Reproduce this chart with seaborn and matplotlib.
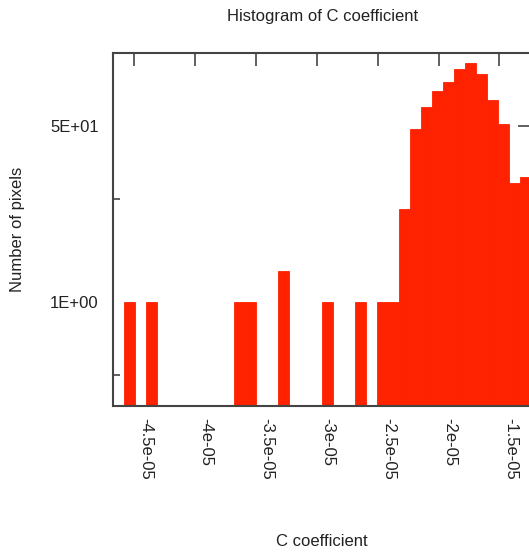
import numpy as np
import pandas as pd
import matplotlib
matplotlib.use("Agg")
import matplotlib.pyplot as plt
import matplotlib.ticker as mticker
import matplotlib.transforms as mtrans
import seaborn as sns

# ---- data ----
bin_start = -4.5847e-05
bin_width = 9.041e-07
counts = [1, 0, 1, 0, 0, 0, 0, 0, 0, 0,
          1, 1, 0, 0, 2, 0, 0, 0, 1, 0,
          0, 1, 0, 1, 1, 8, 47, 76, 109, 135,
          178, 206, 161, 89, 52, 14, 16]
x_ticks = [-4.5e-05, -4e-05, -3.5e-05, -3e-05, -2.5e-05, -2e-05, -1.5e-05]
x_tick_labels = ["-4.5e-05", "-4e-05", "-3.5e-05", "-3e-05", "-2.5e-05", "-2e-05", "-1.5e-05"]
y_major_ticks = [1, 50]
y_major_labels = ["1E+00", "5E+01"]
y_minor_ticks = [0.2, 10]

edges = bin_start + bin_width * np.arange(len(counts) + 1)
centers = (edges[:-1] + edges[1:]) / 2
df = pd.DataFrame({"coef": centers, "n": counts})

sns.set_theme(style="white")
plt.rcParams["font.family"] = ["Liberation Sans", "DejaVu Sans"]

W, H = 529, 557
fig = plt.figure(figsize=(W / 100, H / 100), dpi=100)
left, right, top, bottom = 113.3, 531.0, 53.0, 405.7
ax = fig.add_axes([left / W, (H - bottom) / H, (right - left) / W, (bottom - top) / H])

red = "#FF2200"
sns.histplot(data=df, x="coef", weights="n", bins=list(edges), ax=ax, color=red,
             alpha=1.0, edgecolor=red, linewidth=0.6, stat="count")

ax.set_yscale("log")
ax.set_ylim(0.1, 255)
ax.set_xlim(-4.6726e-05, -1.240e-05)

txt = "#222222"
spine_c = "#444444"
for s in ax.spines.values():
    s.set_color(spine_c)
    s.set_linewidth(1.5)

ax.set_xticks(x_ticks)
ax.set_xticklabels(x_tick_labels, rotation=-90, ha="center", va="top")
ax.xaxis.set_minor_locator(mticker.NullLocator())
ax.yaxis.set_major_locator(mticker.FixedLocator(y_major_ticks))
ax.yaxis.set_major_formatter(mticker.FixedFormatter(y_major_labels))
ax.yaxis.set_minor_locator(mticker.FixedLocator(y_minor_ticks))
ax.yaxis.set_minor_formatter(mticker.NullFormatter())

fs = 12
ax.tick_params(axis="both", which="major", direction="in", length=9.4, width=1.2,
               color=spine_c, labelcolor=txt, labelsize=fs, top=True, right=True)
ax.tick_params(axis="y", which="major", pad=10.5)
ax.tick_params(axis="x", which="major", pad=8.5)
ax.tick_params(axis="y", which="minor", direction="in", length=5, width=1.2,
               color=spine_c, left=True, right=True)

offset = mtrans.ScaledTranslation(11 / 100, 0, fig.dpi_scale_trans)
for lab in ax.get_xticklabels():
    lab.set_transform(lab.get_transform() + offset)

ax.set_title("Histogram of C coefficient", fontsize=fs, color=txt, pad=0,
             y=1 + (top - 16) / (bottom - top), va="center")
ax.set_xlabel("C coefficient", fontsize=fs, color=txt)
ax.xaxis.set_label_coords(0.5, -(541 - bottom) / (bottom - top))
ax.xaxis.label.set_va("center")
ax.set_ylabel("Number of pixels", fontsize=fs, color=txt)
ax.yaxis.set_label_coords(-(left - 18) / (right - left), 0.5)
ax.yaxis.label.set_va("center")

fig.savefig("out.png", dpi=100)
